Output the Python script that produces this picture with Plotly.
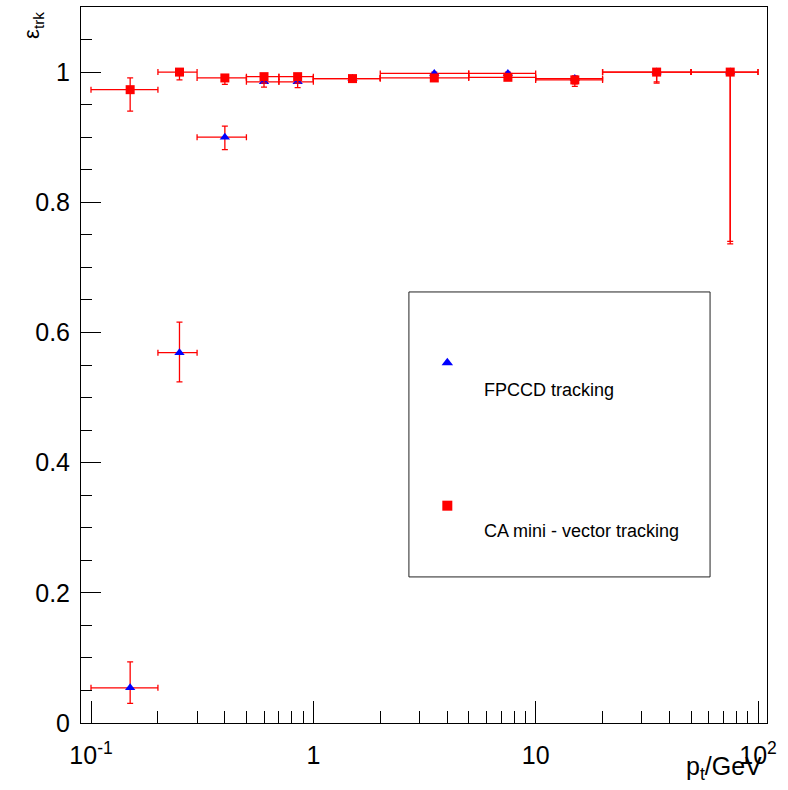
import plotly.graph_objects as go

# pt bins (GeV)
pt_lo = [0.1, 0.2, 0.3, 0.5, 0.7, 1, 2, 5, 10, 20, 50]
pt_hi = [0.2, 0.3, 0.5, 0.7, 1, 2, 5, 10, 20, 50, 100]
pt = [0.15, 0.25, 0.4, 0.6, 0.85, 1.5, 3.5, 7.5, 15, 35, 75]

# FPCCD tracking efficiency
eff_fpccd = [0.054, 0.569, 0.900, 0.985, 0.985, 0.990, 0.998, 0.998, 0.990, 1.000, 1.000]
err_fpccd_up = [0.040, 0.047, 0.017, 0.006, 0.006, 0.003, 0.002, 0.002, 0.004, 0.0, 0.0]
err_fpccd_dn = [0.024, 0.045, 0.019, 0.008, 0.009, 0.004, 0.004, 0.004, 0.008, 0.015, 0.260]

# CA mini-vector tracking efficiency
eff_ca = [0.973, 1.000, 0.991, 0.993, 0.993, 0.990, 0.991, 0.992, 0.988, 1.000, 1.000]
err_ca_up = [0.018, 0.0, 0.004, 0.003, 0.003, 0.002, 0.002, 0.002, 0.003, 0.0, 0.0]
err_ca_dn = [0.033, 0.012, 0.010, 0.010, 0.010, 0.003, 0.003, 0.003, 0.010, 0.017, 0.264]

x_major = [0.1, 1, 10, 100]
x_major_text = ["10<sup>-1</sup>", "1", "10", "10<sup>2</sup>"]
x_minor = [m * d for d in (0.1, 1, 10) for m in range(2, 10)]

y_major = [0, 0.2, 0.4, 0.6, 0.8, 1.0]
y_major_text = ["0", "0.2", "0.4", "0.6", "0.8", "1"]

series_names = ["FPCCD tracking", "CA mini - vector tracking"]

FONT = "Liberation Sans, Arial, Helvetica, sans-serif"
RED = "#ff0000"
BLUE = "#0000ff"

ex_minus = [c - lo for c, lo in zip(pt, pt_lo)]
ex_plus = [hi - c for c, hi in zip(pt, pt_hi)]

fig = go.Figure()


def add_series(eff, up, dn, symbol, color, size):
    fig.add_trace(go.Scatter(
        x=pt, y=eff, mode="markers",
        marker=dict(symbol=symbol, color=color, size=size, line=dict(width=0)),
        error_x=dict(type="data", symmetric=False, array=ex_plus, arrayminus=ex_minus,
                     color=RED, thickness=1.3, width=3),
        error_y=dict(type="data", symmetric=False, array=up, arrayminus=dn,
                     color=RED, thickness=1.3, width=3),
        showlegend=False, hoverinfo="x+y",
    ))


add_series(eff_fpccd, err_fpccd_up, err_fpccd_dn, "triangle-up", BLUE, 9)
add_series(eff_ca, err_ca_up, err_ca_dn, "square", RED, 9)

# legend box, drawn in a unit overlay frame
leg_mark_x = 0.534
leg_mark_y = [0.503, 0.3035]
leg_text_y = [0.465, 0.268]
fig.add_trace(go.Scatter(
    x=[leg_mark_x], y=[leg_mark_y[0]], xaxis="x2", yaxis="y2", mode="markers",
    marker=dict(symbol="triangle-up", color=BLUE, size=10), showlegend=False, hoverinfo="skip"))
fig.add_trace(go.Scatter(
    x=[leg_mark_x], y=[leg_mark_y[1]], xaxis="x2", yaxis="y2", mode="markers",
    marker=dict(symbol="square", color=RED, size=10), showlegend=False, hoverinfo="skip"))

fig.add_shape(type="rect", xref="paper", yref="paper", x0=0.478, x1=0.917, y0=0.204, y1=0.602,
              line=dict(color="#222222", width=1), fillcolor="rgba(0,0,0,0)")

for name, ty in zip(series_names, leg_text_y):
    fig.add_annotation(x=0.584, y=ty, xref="paper", yref="paper", text=name, showarrow=False,
                       xanchor="left", yanchor="middle", font=dict(family=FONT, size=18, color="black"))

# axis titles
fig.add_annotation(x=-0.07, y=0.975, xref="paper", yref="paper", text="ε<sub>trk</sub>",
                   textangle=-90, showarrow=False, xanchor="center", yanchor="middle",
                   font=dict(family=FONT, size=22, color="black"))
fig.add_annotation(x=0.995, y=-0.038, xref="paper", yref="paper", text="p<sub>t</sub>/GeV",
                   showarrow=False, xanchor="right", yanchor="top",
                   font=dict(family=FONT, size=25, color="black"))

fig.update_layout(
    width=788, height=790,
    margin=dict(l=81, r=21, t=7, b=67),
    paper_bgcolor="white", plot_bgcolor="white",
    font=dict(family=FONT, size=25, color="black"),
    xaxis=dict(
        type="log", range=[-1.045, 2.0405],
        tickvals=x_major, ticktext=x_major_text,
        ticks="inside", ticklen=22, tickwidth=1, tickcolor="black",
        minor=dict(tickvals=x_minor, ticks="inside", ticklen=12, tickwidth=1, tickcolor="black"),
        showline=True, linecolor="black", linewidth=1, mirror=True,
        showgrid=False, zeroline=False, tickfont=dict(size=25),
        ticklabelstandoff=10,
    ),
    yaxis=dict(
        range=[0, 1.1],
        tickvals=y_major, ticktext=y_major_text,
        ticks="inside", ticklen=20, tickwidth=1, tickcolor="black",
        minor=dict(dtick=0.05, tick0=0, ticks="inside", ticklen=11, tickwidth=1, tickcolor="black"),
        showline=True, linecolor="black", linewidth=1, mirror=True,
        showgrid=False, zeroline=False, tickfont=dict(size=25),
        ticklabelstandoff=5,
    ),
    xaxis2=dict(overlaying="x", range=[0, 1], visible=False),
    yaxis2=dict(overlaying="y", range=[0, 1], visible=False),
)

fig.write_html("out.html")
